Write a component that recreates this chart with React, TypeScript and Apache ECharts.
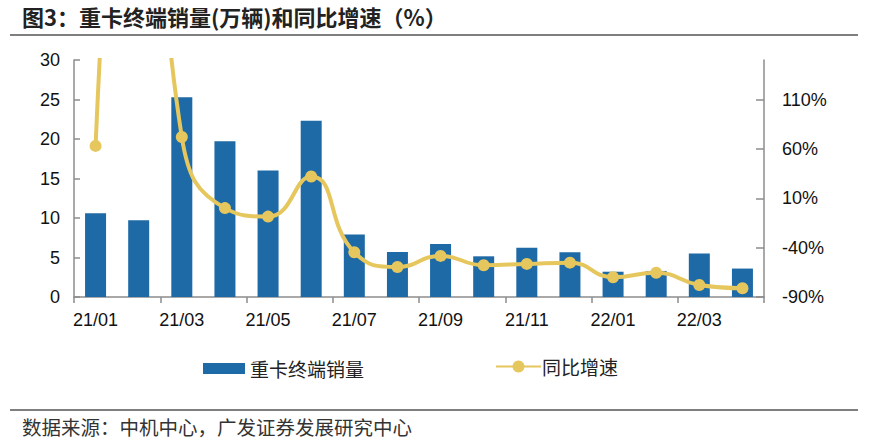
import React, { useEffect, useRef } from "react";
import * as echarts from "echarts";

const categories = ["21/01","21/02","21/03","21/04","21/05","21/06","21/07","21/08","21/09","21/10","21/11","21/12","22/01","22/02","22/03","22/04"];
const salesValues = [10.6, 9.7, 25.3, 19.7, 16.0, 22.3, 7.9, 5.7, 6.7, 5.15, 6.25, 5.65, 3.2, 3.3, 5.5, 3.6];
const yoyValues = [63, 560, 72, 0, -8.6, 32, -44.7, -59.6, -48.4, -57.8, -56.5, -55.2, -70, -65.4, -77.8, -81.2];
const leftTicks = [0, 5, 10, 15, 20, 25, 30];
const rightTicks = [-90, -40, 10, 60, 110];

const TITLE = "图3：重卡终端销量(万辆)和同比增速（%）";
const SOURCE = "数据来源：中机中心，广发证券发展研究中心";

const BLUE = "#1E6AA6";
const GOLD = "#E6C75E";
const AXIS = "#8C8C8C";
const NUM_FONT = "'Liberation Sans', Arial, sans-serif";
const CJK_FONT = "'Noto Sans CJK SC', sans-serif";

export default function App() {
  const ref = useRef<HTMLDivElement>(null);
  useEffect(() => {
    if (!ref.current) return;
    const chart = echarts.init(ref.current, null, { renderer: "svg" });
    chart.setOption({
      animation: false,
      backgroundColor: "#fff",
      grid: { left: 74, right: 125, top: 60, bottom: 147, containLabel: false },
      xAxis: {
        type: "category",
        data: categories,
        boundaryGap: true,
        axisLine: { lineStyle: { color: AXIS, width: 1.5 } },
        axisTick: { show: true, interval: 1, length: 6, lineStyle: { color: AXIS, width: 1.5 } },
        axisLabel: { interval: 1, margin: 14, fontSize: 18, color: "#111", fontFamily: NUM_FONT },
      },
      yAxis: [
        {
          type: "value",
          min: leftTicks[0],
          max: leftTicks[leftTicks.length - 1],
          interval: 5,
          splitLine: { show: false },
          axisLine: { show: true, lineStyle: { color: AXIS, width: 1.5 } },
          axisTick: { show: true, inside: true, length: 6, lineStyle: { color: AXIS, width: 1.5 } },
          axisLabel: { margin: 14, fontSize: 18, color: "#111", fontFamily: NUM_FONT },
        },
        {
          type: "value",
          position: "right",
          min: -90,
          max: 150,
          interval: 50,
          splitLine: { show: false },
          axisLine: { show: true, lineStyle: { color: AXIS, width: 1.5 } },
          axisTick: { show: true, inside: true, length: 8, customValues: rightTicks, lineStyle: { color: AXIS, width: 1.5 } },
          axisLabel: {
            margin: 18,
            fontSize: 18,
            color: "#111",
            fontFamily: NUM_FONT,
            customValues: rightTicks,
            formatter: (v: number) => v + "%",
          },
        },
      ],
      legend: [
        {
          left: 198,
          top: 354,
          itemWidth: 42,
          itemHeight: 11,
          textStyle: { fontSize: 19, color: "#222", fontFamily: CJK_FONT },
          data: [{ name: "重卡终端销量", icon: "rect" }],
        },
        {
          left: 490,
          top: 352,
          itemWidth: 45,
          itemHeight: 15,
          itemGap: 4,
          textStyle: { fontSize: 19, color: "#222", fontFamily: CJK_FONT, padding: [0, 0, 0, -4] },
          data: [{ name: "同比增速" }],
        },
      ],
      series: [
        {
          name: "重卡终端销量",
          type: "bar",
          data: salesValues,
          barWidth: 21,
          itemStyle: { color: BLUE },
          yAxisIndex: 0,
          z: 2,
        },
        {
          name: "同比增速",
          type: "line",
          yAxisIndex: 1,
          data: yoyValues,
          smooth: 0.5,
          clip: true,
          symbol: "circle",
          symbolSize: 12,
          lineStyle: { color: GOLD, width: 4 },
          itemStyle: { color: GOLD },
          z: 3,
        },
      ],
      graphic: [
        {
          type: "text",
          left: 22,
          top: 5,
          style: { text: TITLE, fontSize: 22, fontWeight: "bold", fill: "#222", fontFamily: CJK_FONT },
        },
        {
          type: "line",
          shape: { x1: 10, y1: 35, x2: 858, y2: 35 },
          style: { stroke: "#7F7F7F", lineWidth: 2 },
        },
        {
          type: "line",
          shape: { x1: 10, y1: 410, x2: 858, y2: 410 },
          style: { stroke: "#7F7F7F", lineWidth: 2 },
        },
        {
          type: "text",
          left: 22,
          top: 417,
          style: { text: SOURCE, fontSize: 19.5, fill: "#333", fontFamily: CJK_FONT },
        },
      ],
    });
    return () => chart.dispose();
  }, []);
  return <div ref={ref} style={{ width: 889, height: 444, position: "absolute", left: 0, top: 0 }} />;
}
